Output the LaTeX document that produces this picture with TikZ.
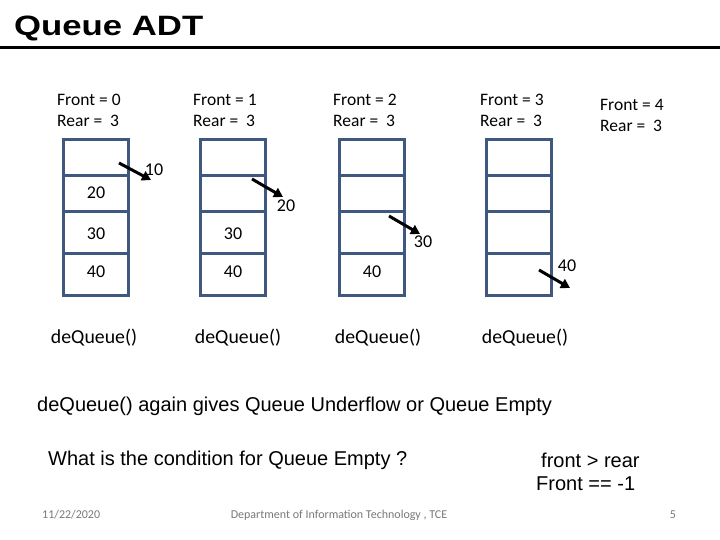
\documentclass[tikz,border=0pt]{standalone}
\usepackage{fontspec}
\setmainfont{Carlito}
\newfontfamily\arialfont{Liberation Sans}
\usetikzlibrary{arrows.meta}
\definecolor{boxblue}{RGB}{62,88,128}
\definecolor{footgray}{RGB}{120,120,120}
\begin{document}
\begin{tikzpicture}[x=1pt,y=-1pt,
  cell/.style={draw=boxblue,line width=3pt,minimum width=65pt,inner sep=0pt,anchor=north west},
  lbl/.style={anchor=west,inner sep=0pt,font=\fontsize{17.5}{21}\selectfont,align=left},
  val/.style={inner sep=0pt,font=\fontsize{18}{18}\selectfont},
  deq/.style={inner sep=0pt,font=\fontsize{19.8}{20}\selectfont},
  pop/.style={line width=3pt,-{Triangle[length=9pt,width=10pt]}},
  body/.style={inner sep=0pt,font=\arialfont\fontsize{20}{24}\selectfont},
  foot/.style={inner sep=0pt,text=footgray,font=\fontsize{12}{12}\selectfont}]
\useasboundingbox (0,0) rectangle (720,540);
% title
\node[anchor=west,inner sep=0pt,font=\arialfont\bfseries\fontsize{28}{28}\selectfont] (title) at (14,28) {\scalebox{1.24}[1]{Queue ADT}};
\draw[line width=3pt] (0,47.5) -- (720,47.5);
% labels
\node[lbl] (l1) at (57,110) {Front = 0\\Rear = \ 3};
\node[lbl] (l2) at (193,110) {Front = 1\\Rear = \ 3};
\node[lbl] (l3) at (333,110) {Front = 2\\Rear = \ 3};
\node[lbl] (l4) at (480,110) {Front = 3\\Rear = \ 3};
\node[lbl] (l5) at (600,115) {Front = 4\\Rear = \ 3};
% queues
\foreach \q/\x in {1/62,2/199,3/338,4/485}{
  \node[cell,minimum height=36pt] (q\q a) at (\x,138) {};
  \node[cell,minimum height=36pt] (q\q b) at (\x,174) {};
  \node[cell,minimum height=42pt] (q\q c) at (\x,210) {};
  \node[cell,minimum height=42pt] (q\q d) at (\x,252) {};
}
\node[val] (v1b) at ([yshift=1pt]q1b) {20};
\node[val] (v1c) at ([yshift=-1pt]q1c) {30};
\node[val] (v1d) at ([yshift=3pt]q1d) {40};
\node[val] (v2c) at ([yshift=-1pt]q2c) {30};
\node[val] (v2d) at ([yshift=3pt]q2d) {40};
\node[val] (v3d) at ([yshift=3pt]q3d) {40};
% removed values
\node[val] (r1) at (154,170) {10};
\node[val] (r2) at (286,206) {20};
\node[val] (r3) at (423,242) {30};
\node[val] (r4) at (567,266) {40};
\coordinate (s1) at (119,163); \coordinate (e1) at (151,180);
\coordinate (s2) at (252,179); \coordinate (e2) at (283,197);
\coordinate (s3) at (389,216); \coordinate (e3) at (420,234);
\coordinate (s4) at (539,270); \coordinate (e4) at (570,288);
\draw[pop] (s1) -- (e1);
\draw[pop] (s2) -- (e2);
\draw[pop] (s3) -- (e3);
\draw[pop] (s4) -- (e4);
% dequeue labels
\node[deq] (d1) at (94,338) {deQueue()};
\node[deq] (d2) at (238,338) {deQueue()};
\node[deq] (d3) at (378,338) {deQueue()};
\node[deq] (d4) at (525,338) {deQueue()};
% bottom text
\node[body,anchor=west] (t1) at (37,406) {deQueue() again gives Queue Underflow or Queue Empty};
\node[body,anchor=west] (t2) at (48,460) {What is the condition for Queue Empty ?};
\node[body,anchor=west] (t3) at (541,460) {front > rear};
\node[body,anchor=west] (t4) at (536,484) {Front == -1};
% footer
\node[foot,anchor=west] (f1) at (42,515) {11/22/2020};
\node[foot] (f2) at (339,515) {Department of Information Technology , TCE};
\node[foot] (f3) at (673,515) {5};
\end{tikzpicture}
\end{document}
